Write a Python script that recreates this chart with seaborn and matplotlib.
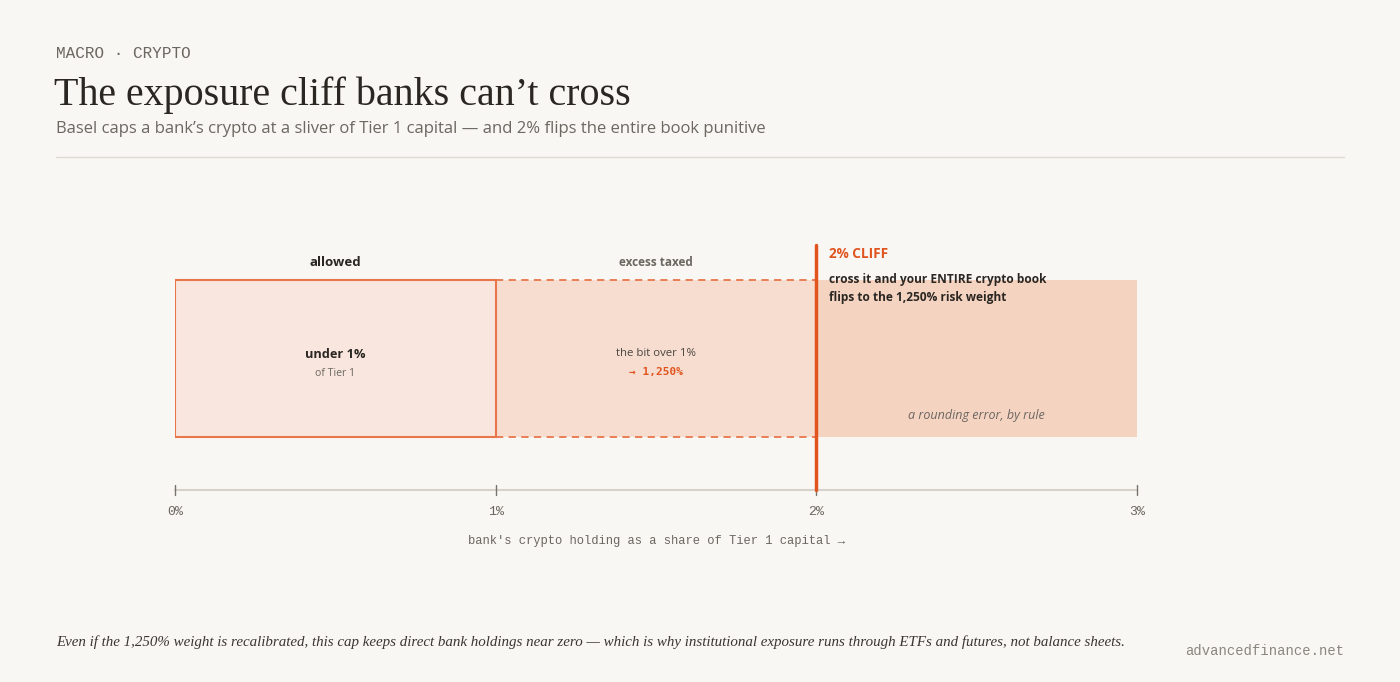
import matplotlib.pyplot as plt
import seaborn as sns

# segments along the exposure axis (share of Tier 1 capital, %)
segment_names = ["allowed", "excess taxed", "cliff"]
segment_start = [0.0, 1.0, 2.0]
segment_width = [1.0, 1.0, 1.0]
segment_fill = ["#f9e7df", "#f7ddd0", "#f5d3c1"]
tick_values = [0, 1, 2, 3]
tick_labels = ["0%", "1%", "2%", "3%"]
cliff_at = 2.0

BG = "#f9f7f3"
ORANGE = "#e0541f"
EDGE = "#e8764a"
DARK = "#2a2622"
GREY = "#6b6761"

sns.set_theme(style="white", rc={"figure.facecolor": BG, "axes.facecolor": BG})
plt.rcParams["font.family"] = ["Open Sans", "DejaVu Sans"]

W, H = 1400, 682
fig = plt.figure(figsize=(W / 100, H / 100), dpi=100)


def fx(x):
    return x / W


def fy(y):
    return 1 - y / H


# header
fig.text(fx(56), fy(53), "MACRO · CRYPTO", family="Liberation Mono", fontsize=11.5,
         color=GREY, va="center")
fig.text(fx(54), fy(95), "The exposure cliff banks can\u2019t cross", family="Liberation Serif",
         fontsize=28.8, color=DARK, va="center")
fig.text(fx(56), fy(129), "Basel caps a bank\u2019s crypto at a sliver of Tier 1 capital \u2014 and 2% flips the entire book punitive",
         fontsize=12, color=GREY, va="center")
fig.add_artist(plt.Line2D([fx(56), fx(1344)], [fy(157), fy(157)], color="#dedad3", lw=1))

# chart area: x in %, y in pixels above the axis line
ax = fig.add_axes([fx(175), fy(490), fx(1137) - fx(175), (490 - 240) / H])
ax.set_xlim(0, 3)
ax.set_ylim(0, 250)
ax.axis("off")

box_bottom, box_top = 53, 210
ax.barh([box_bottom] * 3, segment_width, left=segment_start, height=box_top - box_bottom,
        align="edge", color=segment_fill, linewidth=0, zorder=1)
# allowed box outline
ax.barh(box_bottom, segment_width[0], left=segment_start[0], height=box_top - box_bottom,
        align="edge", fill=False, edgecolor=EDGE, linewidth=1.5, zorder=2)
# dashed edges of the taxed band
for yy in (box_bottom, box_top):
    ax.plot([segment_start[1], segment_start[1] + segment_width[1]], [yy, yy], color=EDGE,
            lw=1.3, ls=(0, (4, 3)), zorder=2)

# axis line and ticks
ax.plot([tick_values[0], tick_values[-1]], [0, 0], color="#d6d2ca", lw=1.5, clip_on=False, zorder=1)
for t, lab in zip(tick_values, tick_labels):
    ax.plot([t, t], [-5, 5], color="#77736d", lw=1, clip_on=False)
    ax.text(t, -22, lab, ha="center", va="center", family="Liberation Mono", fontsize=9.5,
            color=GREY)
ax.text(1.5, -51, "bank's crypto holding as a share of Tier 1 capital \u2192", ha="center",
        va="center", family="Liberation Mono", fontsize=8.75, color=GREY)

# cliff line
ax.plot([cliff_at, cliff_at], [0, 245], color=ORANGE, lw=2.5, zorder=3, clip_on=False)

# segment labels
ax.text(0.5, 228, segment_names[0], ha="center", va="center", fontsize=9.5, weight="bold", color=DARK)
ax.text(1.5, 228, segment_names[1], ha="center", va="center", fontsize=8.5, weight="bold", color=GREY)
ax.text(0.5, 136, "under 1%", ha="center", va="center", fontsize=9.2, weight="bold", color=DARK)
ax.text(0.5, 116, "of Tier 1", ha="center", va="center", fontsize=7.6, color=GREY)
ax.text(1.5, 136, "the bit over 1%", ha="center", va="center", fontsize=8.2, color="#4a4540")
ax.text(1.5, 118, "\u2192 1,250%", ha="center", va="center", family="DejaVu Sans Mono",
        fontsize=8, weight="bold", color=ORANGE)
ax.text(2.04, 236, "2% CLIFF", ha="left", va="center", fontsize=9.8, weight="bold", color=ORANGE)
ax.text(2.04, 211, "cross it and your ENTIRE crypto book", ha="left", va="center", fontsize=8.6,
        weight="bold", color=DARK)
ax.text(2.04, 193, "flips to the 1,250% risk weight", ha="left", va="center", fontsize=8.6,
        weight="bold", color=DARK)
ax.text(2.5, 75, "a rounding error, by rule", ha="center", va="center", fontsize=9,
        style="italic", color=GREY)

# footer
fig.text(fx(56), fy(642), "Even if the 1,250% weight is recalibrated, this cap keeps direct bank holdings near zero \u2014 which is why institutional exposure runs through ETFs and futures, not balance sheets.",
         family="Liberation Serif", style="italic", fontsize=10.85, color="#3a3631", va="center")
fig.text(fx(1344), fy(651), "advancedfinance.net", family="Liberation Mono", fontsize=10,
         color="#8a867f", ha="right", va="center")

fig.savefig("out.png", dpi=100, facecolor=BG)
